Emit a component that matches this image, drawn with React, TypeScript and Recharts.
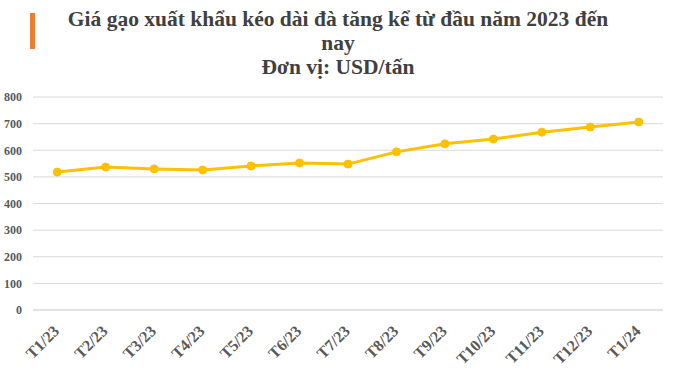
import React from 'react'
import { CartesianGrid, Line, LineChart, XAxis, YAxis } from 'recharts'

// Export rice price, USD/tonne, Jan 2023 → Jan 2024
const months = ['T1/23', 'T2/23', 'T3/23', 'T4/23', 'T5/23', 'T6/23', 'T7/23', 'T8/23', 'T9/23', 'T10/23', 'T11/23', 'T12/23', 'T1/24']
const prices = [518, 537, 530, 526, 541, 552, 548, 594, 624, 642, 668, 687, 706]
const yTicks = [0, 100, 200, 300, 400, 500, 600, 700, 800]

const data = months.map((m, i) => ({ month: m, price: prices[i] }))

const serif = 'Liberation Serif, Times New Roman, serif'
const ink = '#595959'
const hairline = '#d9d9d9'
const gold = '#FFC000'

function MonthTick(props: any) {
  const { x, y, payload } = props
  const ax = x + 3
  const ay = y + 14
  return (
    <text
      x={ax}
      y={ay}
      textAnchor="end"
      transform={`rotate(-45, ${ax}, ${ay})`}
      fill={ink}
      fontFamily={serif}
      fontWeight={700}
      fontSize={16}
    >
      {payload.value}
    </text>
  )
}

export default function App() {
  const titleStyle: React.CSSProperties = {
    position: 'absolute',
    left: 0,
    width: 676,
    textAlign: 'center',
    fontFamily: serif,
    fontWeight: 700,
    fontSize: 21.5,
    lineHeight: '24px',
    color: '#404040',
  }
  return (
    <div style={{ position: 'absolute', left: 0, top: 0, width: 676, height: 374, background: '#fff' }}>
      <div style={{ position: 'absolute', left: 30, top: 13, width: 5, height: 36, background: '#ED7D31' }} />
      <div style={{ ...titleStyle, top: 7 }}>
        Giá gạo xuất khẩu kéo dài đà tăng kể từ đầu năm 2023 đến
        <br />
        nay
        <br />
        Đơn vị: USD/tấn
      </div>
      <div style={{ position: 'absolute', left: 0, top: 0 }}>
        <LineChart width={676} height={374} data={data} margin={{ top: 97, right: 13, left: 0, bottom: 0 }}>
          <CartesianGrid stroke={hairline} vertical={false} />
          <XAxis
            dataKey="month"
            scale="band"
            height={64}
            tickLine={false}
            axisLine={{ stroke: hairline }}
            tick={<MonthTick />}
            interval={0}
          />
          <YAxis
            domain={[0, 800]}
            ticks={yTicks}
            width={33}
            axisLine={false}
            tickLine={false}
            tickSize={0}
            tickMargin={11}
            tick={{ fill: ink, fontFamily: serif, fontWeight: 700, fontSize: 12 }}
          />
          <Line
            dataKey="price"
            type="linear"
            stroke={gold}
            strokeWidth={3}
            dot={{ r: 4, fill: gold, stroke: gold, strokeWidth: 1 }}
            isAnimationActive={false}
          />
        </LineChart>
      </div>
    </div>
  )
}
